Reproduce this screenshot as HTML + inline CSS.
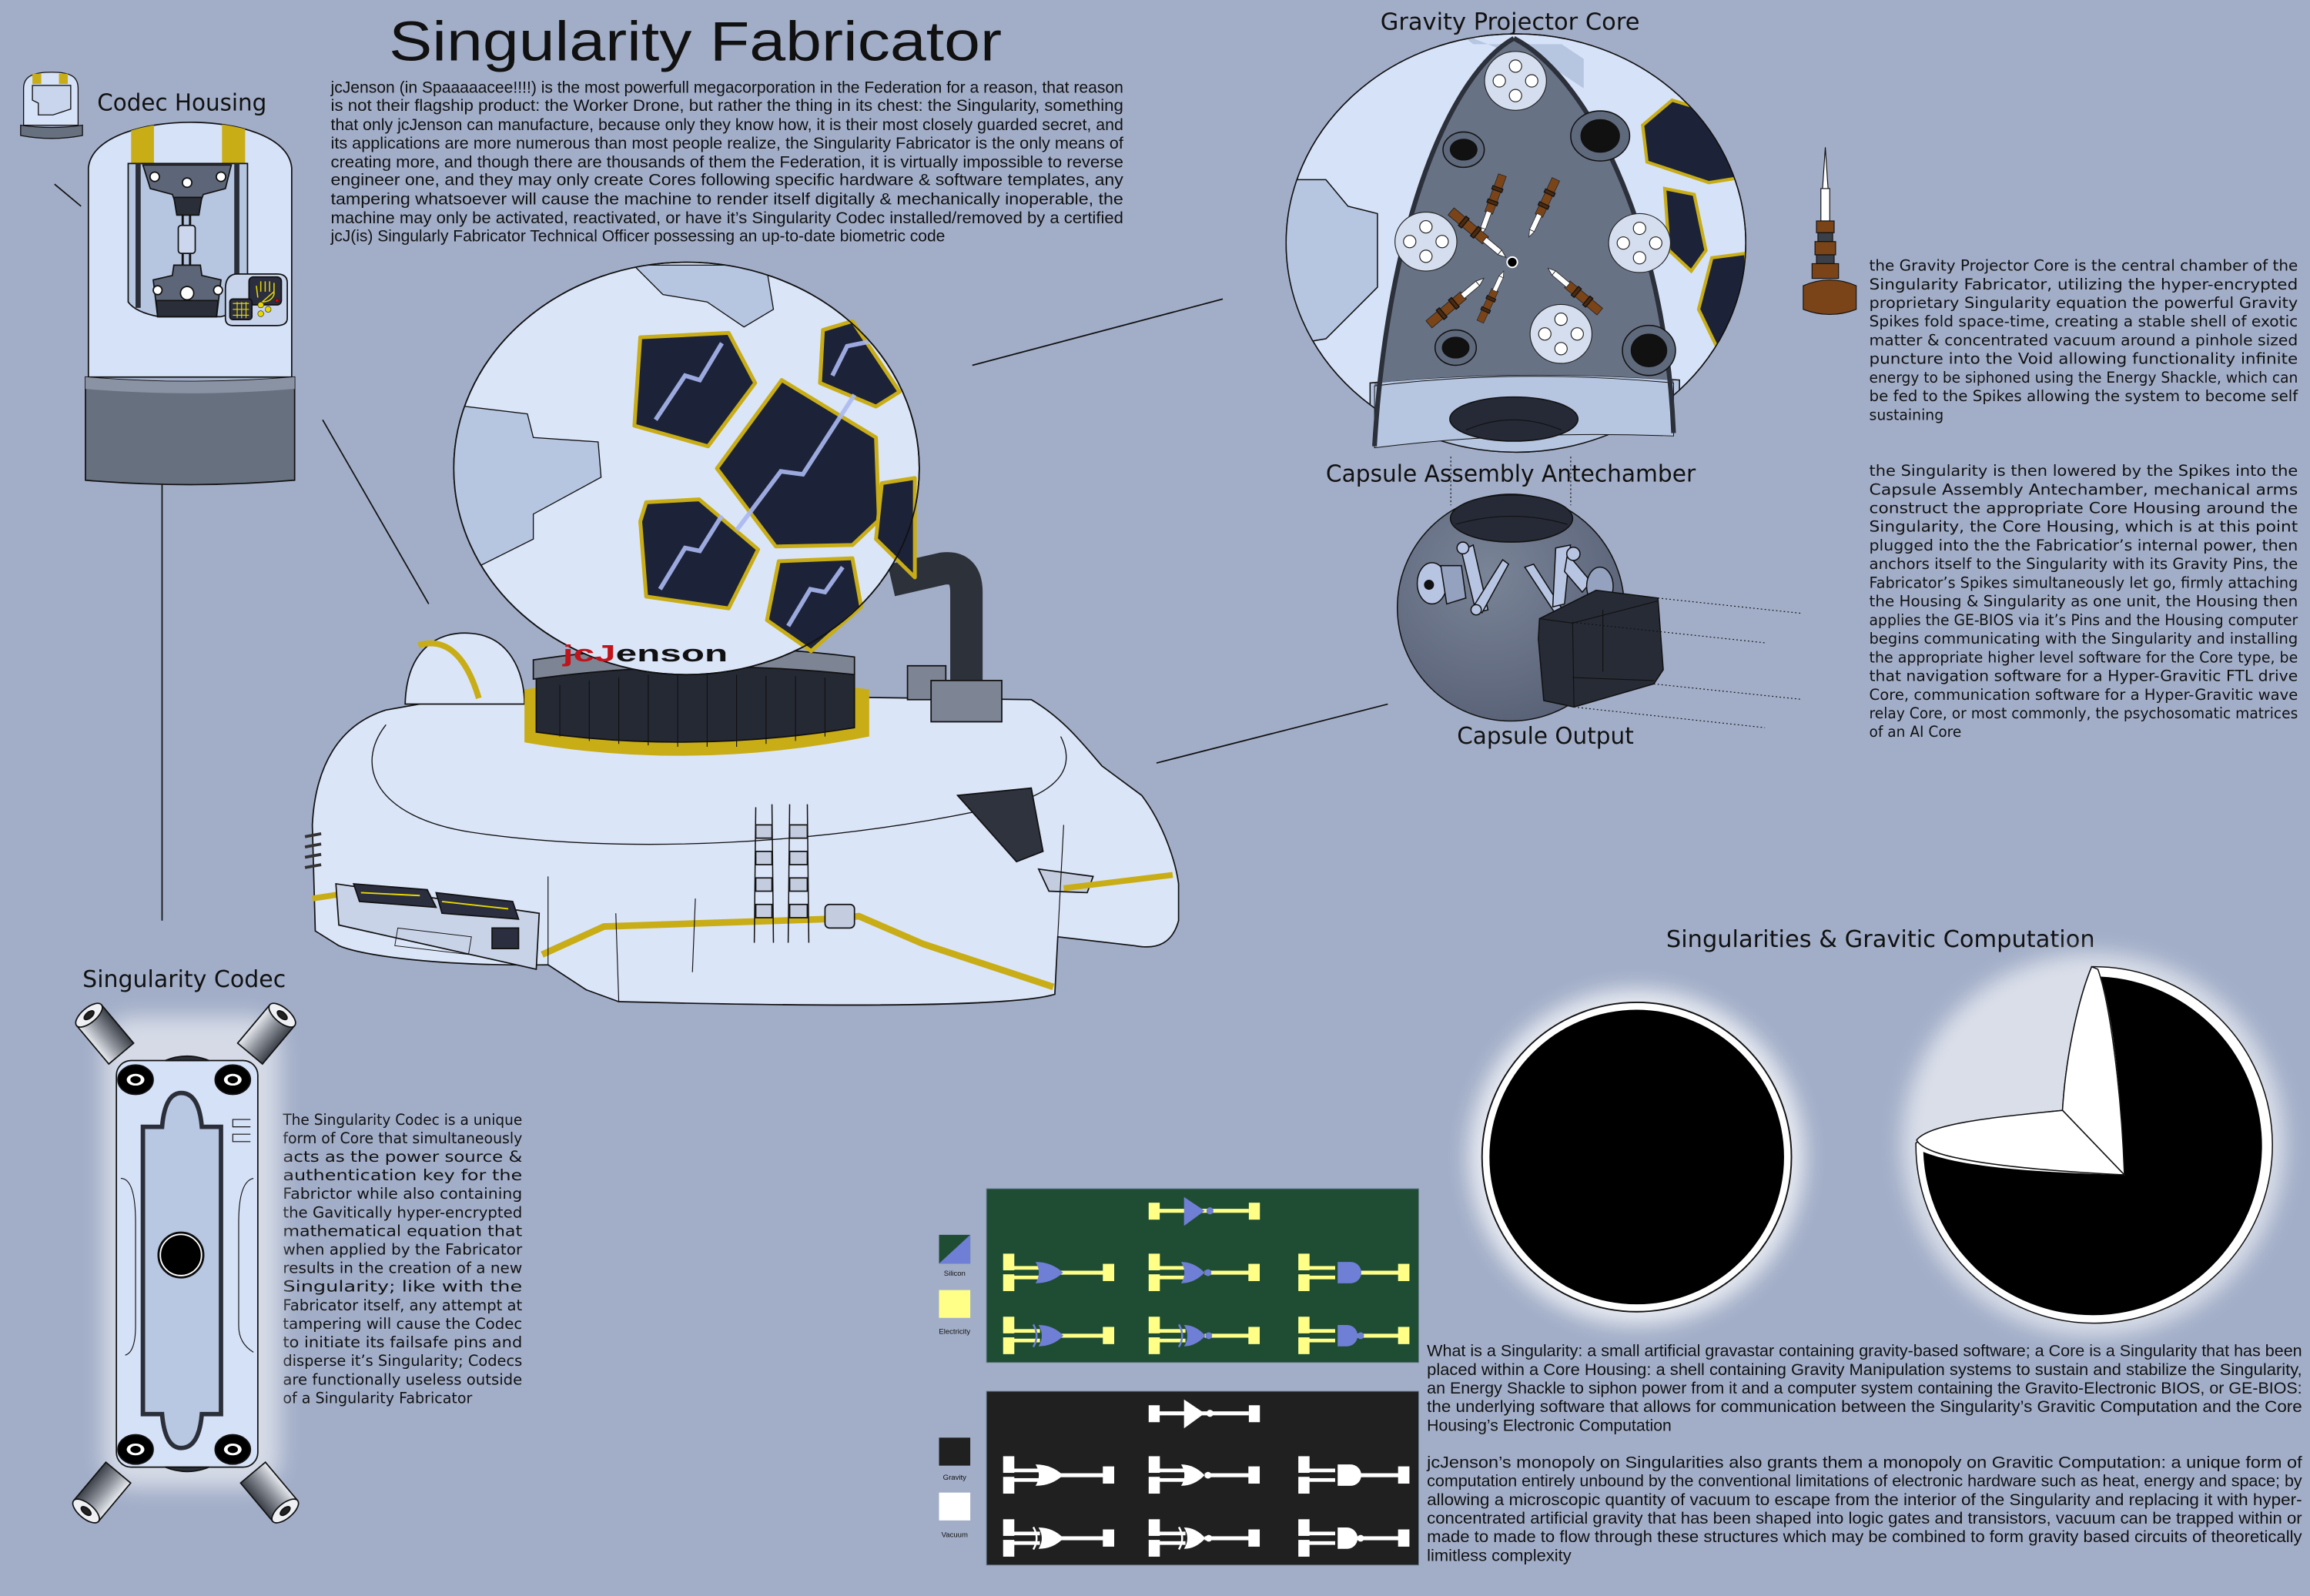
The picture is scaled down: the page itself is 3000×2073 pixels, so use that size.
<!DOCTYPE html>
<html><head><meta charset="utf-8"><style>
html,body{margin:0;padding:0;background:#a2aec8;}
svg{display:block;}
.b{font-family:"Liberation Sans",sans-serif;fill:#111;}
.h{font-family:"DejaVu Sans","Liberation Sans",sans-serif;fill:#111;}
.s{font-family:"DejaVu Sans","Liberation Sans",sans-serif;fill:#111;}
</style></head><body>
<svg xmlns="http://www.w3.org/2000/svg" xmlns:xlink="http://www.w3.org/1999/xlink" width="3000" height="2073" viewBox="0 0 1568 1083.5">
<defs>
<filter id="glow" x="-30%" y="-30%" width="160%" height="160%"><feGaussianBlur stdDeviation="7"/></filter>
<filter id="glow2" x="-30%" y="-30%" width="160%" height="160%"><feGaussianBlur stdDeviation="3"/></filter>
<linearGradient id="cyl" x1="0" y1="0" x2="1" y2="0"><stop offset="0" stop-color="#e8ebf0"/><stop offset="0.5" stop-color="#8a8f98"/><stop offset="1" stop-color="#3b3f47"/></linearGradient>
<radialGradient id="sph" cx="0.4" cy="0.35" r="0.7"><stop offset="0" stop-color="#7a8497"/><stop offset="1" stop-color="#586176"/></radialGradient>
<g id="inp"><rect x="0" y="-12.9" width="7.6" height="11.3"/><rect x="0" y="1.1" width="7.6" height="11.4"/><rect x="7" y="-4.5" width="18" height="2.5"/><rect x="7" y="2" width="18" height="2.5"/></g>
<g id="out"><rect x="38" y="-1.35" width="30" height="2.7"/><rect x="67.7" y="-6" width="7.7" height="11.7"/></g>
<g id="gOR"><use xlink:href="#inp"/><use xlink:href="#out"/><path fill="currentColor" d="M22,-7.3 Q33,-7.3 40.7,0 Q33,7.2 22,7.2 Q26.5,0 22,-7.3 Z"/></g>
<g id="gNOR"><use xlink:href="#inp"/><use xlink:href="#out"/><path fill="currentColor" d="M22,-7.3 Q31,-7.3 38,0 Q31,7.2 22,7.2 Q26.5,0 22,-7.3 Z"/><circle cx="40.3" cy="0" r="2.3" fill="currentColor"/></g>
<g id="gAND"><use xlink:href="#inp"/><use xlink:href="#out"/><path fill="currentColor" d="M26.7,-7.3 H35.5 A7.25,7.25 0 0 1 35.5,7.2 H26.7 Z"/></g>
<g id="gNAND"><use xlink:href="#inp"/><use xlink:href="#out"/><path fill="currentColor" d="M26.7,-7.3 H33 A7.25,7.25 0 0 1 33,7.2 H26.7 Z"/><circle cx="42.3" cy="0" r="2.3" fill="currentColor"/></g>
<g id="gXOR"><use xlink:href="#inp"/><use xlink:href="#out"/><path fill="currentColor" d="M24,-7.3 Q34,-7.3 41,0 Q34,7.2 24,7.2 Q28.5,0 24,-7.3 Z"/><path d="M20.5,-7.6 Q25,0 20.5,7.6" stroke="currentColor" stroke-width="1.3" fill="none"/></g>
<g id="gXNOR"><use xlink:href="#inp"/><use xlink:href="#out"/><path fill="currentColor" d="M24,-7.3 Q32,-7.3 38.5,0 Q32,7.2 24,7.2 Q28.5,0 24,-7.3 Z"/><path d="M20.5,-7.6 Q25,0 20.5,7.6" stroke="currentColor" stroke-width="1.3" fill="none"/><circle cx="40.8" cy="0" r="2.3" fill="currentColor"/></g>
<g id="gNOT"><rect x="0" y="-5.5" width="7.5" height="11.5"/><rect x="7" y="-1.35" width="61" height="2.7"/><path fill="currentColor" d="M24,-9.4 L38,0 L24,10.2 Z"/><circle cx="41.6" cy="0" r="2.4" fill="currentColor"/><rect x="68" y="-5.5" width="7.5" height="11.5"/></g>
<g id="disc"><ellipse cx="0" cy="0" rx="21" ry="20" fill="#d4deef" stroke="#222" stroke-width="0.6"/><circle cx="0" cy="-10" r="4.2" fill="#fff" stroke="#222" stroke-width="0.6"/><circle cx="0" cy="10" r="4.2" fill="#fff" stroke="#222" stroke-width="0.6"/><circle cx="-11" cy="0" r="4.2" fill="#fff" stroke="#222" stroke-width="0.6"/><circle cx="11" cy="0" r="4.2" fill="#fff" stroke="#222" stroke-width="0.6"/></g>
<g id="spike"><rect x="-3.5" y="0" width="7" height="34" fill="#7a4418" stroke="#222" stroke-width="0.5"/><rect x="-2.2" y="-14" width="4.4" height="15" fill="#fff" stroke="#222" stroke-width="0.5"/><path d="M-2.2,-14 L0,-20 L2.2,-14 Z" fill="#fff" stroke="#222" stroke-width="0.5"/><rect x="-4.5" y="8" width="9" height="3" fill="#4a2a10"/><rect x="-4.5" y="20" width="9" height="3" fill="#4a2a10"/></g>
<clipPath id="globeclip"><ellipse cx="466" cy="318" rx="158" ry="140"/></clipPath>
<clipPath id="coreclip"><ellipse cx="1029" cy="165" rx="156" ry="142"/></clipPath>
<clipPath id="chbody"><path d="M60,256 L60,114 C62,92 100,83 129,83 C160,83 196,92 198,114 L198,256 Z"/></clipPath>
</defs>

<rect width="1568" height="1083.5" fill="#a2aec8"/>

<!-- connector lines -->
<g stroke="#111" stroke-width="0.9" fill="none">
<line x1="37" y1="125" x2="55" y2="140"/>
<line x1="219" y1="285" x2="291" y2="410"/>
<line x1="110" y1="325" x2="110" y2="625"/>
<line x1="660" y1="248" x2="830" y2="203"/>
<line x1="785" y1="518" x2="942" y2="478"/>
</g>

<!-- Title & top paragraph -->
<text class="b" x="264" y="41" font-size="38" textLength="416" lengthAdjust="spacingAndGlyphs">Singularity Fabricator</text>
<g class="b" font-size="11">
<text x="224.5" y="63" textLength="538" lengthAdjust="spacingAndGlyphs">jcJenson (in Spaaaaacee!!!!) is the most powerfull megacorporation in the Federation for a reason, that reason</text>
<text x="224.5" y="75.2" textLength="538" lengthAdjust="spacingAndGlyphs">is not their flagship product: the Worker Drone, but rather the thing in its chest: the Singularity, something</text>
<text x="224.5" y="88.3" textLength="538" lengthAdjust="spacingAndGlyphs">that only jcJenson can manufacture, because only they know how, it is their most closely guarded secret, and</text>
<text x="224.5" y="100.8" textLength="538" lengthAdjust="spacingAndGlyphs">its applications are more numerous than most people realize, the Singularity Fabricator is the only means of</text>
<text x="224.5" y="113.6" textLength="538" lengthAdjust="spacingAndGlyphs">creating more, and though there are thousands of them the Federation, it is virtually impossible to reverse</text>
<text x="224.5" y="125.8" textLength="538" lengthAdjust="spacingAndGlyphs">engineer one, and they may only create Cores following specific hardware &amp; software templates, any</text>
<text x="224.5" y="138.8" textLength="538" lengthAdjust="spacingAndGlyphs">tampering whatsoever will cause the machine to render itself digitally &amp; mechanically inoperable, the</text>
<text x="224.5" y="151.5" textLength="538" lengthAdjust="spacingAndGlyphs">machine may only be activated, reactivated, or have it’s Singularity Codec installed/removed by a certified</text>
<text x="224.5" y="163.8" textLength="417" lengthAdjust="spacingAndGlyphs">jcJ(is) Singularly Fabricator Technical Officer possessing an up-to-date biometric code</text>
</g>

<!-- Labels -->
<g class="h" font-size="16">
<text x="66" y="75" textLength="115" lengthAdjust="spacingAndGlyphs">Codec Housing</text>
<text x="937" y="20" textLength="176" lengthAdjust="spacingAndGlyphs">Gravity Projector Core</text>
<text x="900" y="327" textLength="251" lengthAdjust="spacingAndGlyphs">Capsule Assembly Antechamber</text>
<text x="989" y="505" textLength="120" lengthAdjust="spacingAndGlyphs">Capsule Output</text>
<text x="56" y="670" textLength="138" lengthAdjust="spacingAndGlyphs">Singularity Codec</text>
<text x="1131" y="643" textLength="291" lengthAdjust="spacingAndGlyphs">Singularities &amp; Gravitic Computation</text>
</g>

<!-- Right text 1 -->
<g class="s" font-size="10">
<text x="1268.8" y="183.7" textLength="291" lengthAdjust="spacingAndGlyphs">the Gravity Projector Core is the central chamber of the</text>
<text x="1268.8" y="196.4" textLength="291" lengthAdjust="spacingAndGlyphs">Singularity Fabricator, utilizing the hyper-encrypted</text>
<text x="1268.8" y="209" textLength="291" lengthAdjust="spacingAndGlyphs">proprietary Singularity equation the powerful Gravity</text>
<text x="1268.8" y="221.7" textLength="291" lengthAdjust="spacingAndGlyphs">Spikes fold space-time, creating a stable shell of exotic</text>
<text x="1268.8" y="234.4" textLength="291" lengthAdjust="spacingAndGlyphs">matter &amp; concentrated vacuum around a pinhole sized</text>
<text x="1268.8" y="247" textLength="291" lengthAdjust="spacingAndGlyphs">puncture into the Void allowing functionality infinite</text>
<text x="1268.8" y="259.7" textLength="291" lengthAdjust="spacingAndGlyphs">energy to be siphoned using the Energy Shackle, which can</text>
<text x="1268.8" y="272.4" textLength="291" lengthAdjust="spacingAndGlyphs">be fed to the Spikes allowing the system to become self</text>
<text x="1268.8" y="285" textLength="50.5" lengthAdjust="spacingAndGlyphs">sustaining</text>
</g>
<!-- Right text 2 -->
<g class="s" font-size="10">
<text x="1268.8" y="323" textLength="291" lengthAdjust="spacingAndGlyphs">the Singularity is then lowered by the Spikes into the</text>
<text x="1268.8" y="335.7" textLength="291" lengthAdjust="spacingAndGlyphs">Capsule Assembly Antechamber, mechanical arms</text>
<text x="1268.8" y="348.3" textLength="291" lengthAdjust="spacingAndGlyphs">construct the appropriate Core Housing around the</text>
<text x="1268.8" y="361" textLength="291" lengthAdjust="spacingAndGlyphs">Singularity, the Core Housing, which is at this point</text>
<text x="1268.8" y="373.7" textLength="291" lengthAdjust="spacingAndGlyphs">plugged into the the Fabricatior’s internal power, then</text>
<text x="1268.8" y="386.3" textLength="291" lengthAdjust="spacingAndGlyphs">anchors itself to the Singularity with its Gravity Pins, the</text>
<text x="1268.8" y="399" textLength="291" lengthAdjust="spacingAndGlyphs">Fabricator’s Spikes simultaneously let go, firmly attaching</text>
<text x="1268.8" y="411.7" textLength="291" lengthAdjust="spacingAndGlyphs">the Housing &amp; Singularity as one unit, the Housing then</text>
<text x="1268.8" y="424.3" textLength="291" lengthAdjust="spacingAndGlyphs">applies the GE-BIOS via it’s Pins and the Housing computer</text>
<text x="1268.8" y="437" textLength="291" lengthAdjust="spacingAndGlyphs">begins communicating with the Singularity and installing</text>
<text x="1268.8" y="449.7" textLength="291" lengthAdjust="spacingAndGlyphs">the appropriate higher level software for the Core type, be</text>
<text x="1268.8" y="462.3" textLength="291" lengthAdjust="spacingAndGlyphs">that navigation software for a Hyper-Gravitic FTL drive</text>
<text x="1268.8" y="475" textLength="291" lengthAdjust="spacingAndGlyphs">Core, communication software for a Hyper-Gravitic wave</text>
<text x="1268.8" y="487.7" textLength="291" lengthAdjust="spacingAndGlyphs">relay Core, or most commonly, the psychosomatic matrices</text>
<text x="1268.8" y="500.3" textLength="62.6" lengthAdjust="spacingAndGlyphs">of an AI Core</text>
</g>
<!-- Codec text -->
<g class="s" font-size="10">
<text x="192" y="763.5" textLength="162.5" lengthAdjust="spacingAndGlyphs">The Singularity Codec is a unique</text>
<text x="192" y="776.1" textLength="162.5" lengthAdjust="spacingAndGlyphs">form of Core that simultaneously</text>
<text x="192" y="788.7" textLength="162.5" lengthAdjust="spacingAndGlyphs">acts as the power source &amp;</text>
<text x="192" y="801.3" textLength="162.5" lengthAdjust="spacingAndGlyphs">authentication key for the</text>
<text x="192" y="813.9" textLength="162.5" lengthAdjust="spacingAndGlyphs">Fabrictor while also containing</text>
<text x="192" y="826.5" textLength="162.5" lengthAdjust="spacingAndGlyphs">the Gavitically hyper-encrypted</text>
<text x="192" y="839.1" textLength="162.5" lengthAdjust="spacingAndGlyphs">mathematical equation that</text>
<text x="192" y="851.7" textLength="162.5" lengthAdjust="spacingAndGlyphs">when applied by the Fabricator</text>
<text x="192" y="864.3" textLength="162.5" lengthAdjust="spacingAndGlyphs">results in the creation of a new</text>
<text x="192" y="876.9" textLength="162.5" lengthAdjust="spacingAndGlyphs">Singularity; like with the</text>
<text x="192" y="889.5" textLength="162.5" lengthAdjust="spacingAndGlyphs">Fabricator itself, any attempt at</text>
<text x="192" y="902.1" textLength="162.5" lengthAdjust="spacingAndGlyphs">tampering will cause the Codec</text>
<text x="192" y="914.7" textLength="162.5" lengthAdjust="spacingAndGlyphs">to initiate its failsafe pins and</text>
<text x="192" y="927.3" textLength="162.5" lengthAdjust="spacingAndGlyphs">disperse it’s Singularity; Codecs</text>
<text x="192" y="939.9" textLength="162.5" lengthAdjust="spacingAndGlyphs">are functionally useless outside</text>
<text x="192" y="952.5" textLength="128.6" lengthAdjust="spacingAndGlyphs">of a Singularity Fabricator</text>
</g>
<!-- Bottom right text -->
<g class="b" font-size="11">
<text x="968.6" y="920.8" textLength="594" lengthAdjust="spacingAndGlyphs">What is a Singularity: a small artificial gravastar containing gravity-based software; a Core is a Singularity that has been</text>
<text x="968.6" y="933.4" textLength="594" lengthAdjust="spacingAndGlyphs">placed within a Core Housing: a shell containing Gravity Manipulation systems to sustain and stabilize the Singularity,</text>
<text x="968.6" y="946.1" textLength="594" lengthAdjust="spacingAndGlyphs">an Energy Shackle to siphon power from it and a computer system containing the Gravito-Electronic BIOS, or GE-BIOS:</text>
<text x="968.6" y="958.7" textLength="594" lengthAdjust="spacingAndGlyphs">the underlying software that allows for communication between the Singularity’s Gravitic Computation and the Core</text>
<text x="968.6" y="971.3" textLength="166" lengthAdjust="spacingAndGlyphs">Housing’s Electronic Computation</text>
<text x="968.6" y="996.5" textLength="594" lengthAdjust="spacingAndGlyphs">jcJenson’s monopoly on Singularities also grants them a monopoly on Gravitic Computation: a unique form of</text>
<text x="968.6" y="1009.1" textLength="594" lengthAdjust="spacingAndGlyphs">computation entirely unbound by the conventional limitations of electronic hardware such as heat, energy and space; by</text>
<text x="968.6" y="1021.8" textLength="594" lengthAdjust="spacingAndGlyphs">allowing a microscopic quantity of vacuum to escape from the interior of the Singularity and replacing it with hyper-</text>
<text x="968.6" y="1034.4" textLength="594" lengthAdjust="spacingAndGlyphs">concentrated artificial gravity that has been shaped into logic gates and transistors, vacuum can be trapped within or</text>
<text x="968.6" y="1047" textLength="594" lengthAdjust="spacingAndGlyphs">made to made to flow through these structures which may be combined to form gravity based circuits of theoretically</text>
<text x="968.6" y="1059.6" textLength="98" lengthAdjust="spacingAndGlyphs">limitless complexity</text>
</g>

<!-- ===== Codec Housing small icon ===== -->
<g stroke="#111" stroke-width="0.7">
<path d="M16,85 L16,60 C16,52 22,49 35,49 C48,49 53,52 53,60 L53,85 Z" fill="#d6e2f8"/>
<rect x="22" y="50" width="6" height="7" fill="#c8ad16" stroke="none"/>
<rect x="40" y="50" width="6" height="7" fill="#c8ad16" stroke="none"/>
<path d="M22,58 L48,58 L48,74 L36,78 L26,78 L26,70 L22,68 Z" fill="#c9d5ec"/>
<path d="M14,85 Q35,88 56,85 L56,92 Q35,96 14,92 Z" fill="#66707f"/>
</g>

<!-- ===== Codec Housing main ===== -->
<g stroke="#111" stroke-width="0.9">
<path d="M60,256 L60,114 C62,92 100,83 129,83 C160,83 196,92 198,114 L198,256 Z" fill="#d6e2f8"/>
<g clip-path="url(#chbody)" stroke="none"><rect x="89" y="80" width="15.5" height="33" fill="#c8ad16"/><rect x="150.7" y="80" width="15.7" height="33" fill="#c8ad16"/></g>
<path d="M87,111 L168,111 L168,205 Q162,212 150,215 L108,215 Q92,212 87,205 Z" fill="#b6c5e0"/>
<rect x="92" y="111" width="3.5" height="98" fill="#2a2e38" stroke="none"/>
<rect x="159" y="111" width="3.5" height="98" fill="#2a2e38" stroke="none"/>
<path d="M97,112 L157,112 L153,128 L138,132 L135,140 L120,140 L117,132 L102,128 Z" fill="#5d6678"/>
<path d="M118,134 L137,134 L135,146 L120,146 Z" fill="#2a2e38"/>
<circle cx="105" cy="120" r="3.2" fill="#fff"/><circle cx="127" cy="124" r="3.2" fill="#fff"/><circle cx="150" cy="120" r="3.2" fill="#fff"/>
<rect x="121" y="153" width="11.5" height="19" rx="2" fill="#ccd7ee"/>
<path d="M124,146 L124,153 M129,146 L129,153 M124,172 L124,180 M129,172 L129,180" stroke-width="1.5"/>
<path d="M118,180 L136,180 L137,187 L150,190 L147,215 L107,215 L104,190 L117,187 Z" fill="#5d6678"/>
<path d="M106,204 L148,204 L147,215 L107,215 Z" fill="#2a2e38"/>
<circle cx="127" cy="199" r="4.5" fill="#fff"/><circle cx="107" cy="197" r="3" fill="#fff"/><circle cx="148" cy="197" r="3" fill="#fff"/>
<path d="M153,196 Q153,187 160,186 L188,186 Q195,186 195,192 L195,216 Q195,221 188,221 L158,221 Q153,221 153,216 Z" fill="#c8d4ec"/>
<rect x="169" y="188" width="22" height="19" rx="3" fill="#2a2e3f"/>
<path d="M175,202 L174,194 M177,198 L177,191 M180,198 L180,191 M183,198 L183,191 M186,198 L186,192 L186,200 Q184,205 178,205 Z" stroke="#e8d800" stroke-width="0.8" fill="none"/>
<rect x="156" y="203" width="15" height="14" rx="2" fill="#2a2e3f"/>
<path d="M158,206 H169 M158,210 H169 M158,214 H169 M161,205 V216 M164,205 V216 M167,205 V216" stroke="#e8d800" stroke-width="0.6"/>
<circle cx="177" cy="207" r="2" fill="#e8d800" stroke-width="0.3"/><circle cx="182" cy="210" r="2" fill="#e8d800" stroke-width="0.3"/><circle cx="177" cy="213" r="2" fill="#e8d800" stroke-width="0.3"/><circle cx="188" cy="204" r="1.3" fill="#d00" stroke-width="0.3"/>
<path d="M58,256 Q129,262 200,256 L200,326 Q129,332 58,326 Z" fill="#66707f"/>
<path d="M58,256 Q129,262 200,256 L200,264 Q129,270 58,264 Z" fill="#8a93a3" stroke="none"/>
</g>

<!-- ===== Main machine ===== -->
<g stroke="#111" stroke-width="0.9">
<!-- base -->
<path d="M212,560 C214,520 230,492 262,482 L330,470 L700,475 C722,488 735,505 748,520 L775,540 C790,560 798,585 800,600 L800,625 C796,640 786,645 770,642 L718,636 L716,675 C690,683 580,684 420,680 L398,672 L372,655 C300,656 246,649 230,642 L214,632 Z" fill="#dbe5f8"/>
<path d="M262,492 C240,520 255,555 320,565 C420,580 560,575 690,545 C720,535 730,520 720,500" fill="none" stroke-width="0.7"/>
<path d="M650,540 L700,535 L708,578 L690,585 Z" fill="#2f333d"/>
<path d="M705,590 L742,595 L738,606 L712,605 Z" fill="#c4cde0"/>
<path d="M207,568 L218,566 M207,575 L218,573 M207,582 L218,580 M207,589 L218,587" stroke="#333" stroke-width="2"/>
<path d="M212,610 L238,606" stroke="#c8ad16" stroke-width="4" fill="none"/>
<path d="M368,648 L410,629 L560,624 L583,622 L627,641 L715,670" stroke="#c8ad16" stroke-width="4.5" fill="none"/>
<path d="M722,603 L796,594" stroke="#c8ad16" stroke-width="4" fill="none"/>
<path d="M372,655 L372,595 M718,636 L722,560 M420,680 L418,620 M470,660 L472,610" fill="none" stroke-width="0.6"/>
<!-- front panel -->
<path d="M228,600 L366,620 L364,658 L230,628 Z" fill="#c9d3e8"/>
<path d="M240,600 L290,604 L296,616 L244,612 Z M296,606 L348,612 L352,624 L300,620 Z" fill="#2a2e3f"/>
<path d="M245,606 L285,608 M300,612 L345,617" stroke="#e8d800" stroke-width="1"/>
<rect x="334" y="630" width="18" height="14" fill="#2a2e3f"/>
<path d="M270,630 L320,636 L318,648 L268,642 Z" fill="none" stroke-width="0.5"/>
<!-- ladder -->
<path d="M513,548 L512,640 M524,546 L525,640 M536,546 L535,640 M548,546 L549,640" stroke-width="0.8" fill="none"/>
<g fill="#c4cde0"><rect x="513" y="560" width="11" height="9"/><rect x="513" y="578" width="11" height="9"/><rect x="513" y="596" width="11" height="9"/><rect x="513" y="614" width="11" height="9"/>
<rect x="536" y="560" width="12" height="9"/><rect x="536" y="578" width="12" height="9"/><rect x="536" y="596" width="12" height="9"/><rect x="536" y="614" width="12" height="9"/></g>
<rect x="560" y="614" width="20" height="16" rx="3" fill="#c4cde0"/>
<!-- left dome -->
<path d="M275,478 C276,440 298,428 320,430 C345,432 356,455 356,478 Z" fill="#dbe5f8"/>
<path d="M284,438 Q312,430 325,474" stroke="#c8ad16" stroke-width="4" fill="none"/>
<!-- pipe -->
<path d="M616,452 L642,452 L642,475 L616,475 Z" fill="#7d8494"/>
<path d="M605,394 L640,386 Q656,384 656,402 L656,470" stroke="#2d3139" stroke-width="22" fill="none" stroke-linecap="butt"/>
<path d="M632,462 L680,462 L680,490 L632,490 Z" fill="#7d8494"/>
<!-- collar -->
<path d="M356,468 Q470,452 590,468 L590,500 Q470,524 356,504 Z" fill="#c8ad16" stroke="none"/>
<path d="M364,458 Q470,446 580,457 L580,494 Q470,512 364,497 Z" fill="#252934"/>
<path d="M380,465 L380,500 M400,462 L400,503 M420,460 L420,505 M440,458 L440,506 M460,458 L460,507 M480,458 L480,507 M500,458 L500,507 M520,459 L520,505 M540,459 L540,503 M560,460 L560,500" stroke="#111" stroke-width="0.6"/>
<path d="M362,448 Q470,432 580,446 L580,458 Q470,446 362,461 Z" fill="#7d8494"/>
<!-- globe -->
<ellipse cx="466" cy="318" rx="158" ry="140" fill="#dbe5f8"/>
<g clip-path="url(#globeclip)" stroke-width="0.7">
<path d="M300,274 L358,281 L362,297 L406,300 L408,324 L362,349 L362,366 L318,388 L300,380 Z" fill="#b6c5e0"/>
<path d="M430,180 L450,200 L480,205 L505,222 L525,210 L520,180 Z" fill="#b6c5e0"/>
</g>
<g fill="#1c2238" stroke="#c8ad16" stroke-width="2.6" stroke-linejoin="round">
<polygon points="434.6,229 494.6,226 512.6,260 480.6,303 430.6,289"/>
<polygon points="558.6,224 578.6,218 610.6,266 594.6,276 556.6,260"/>
<polygon points="530.6,258 594.6,297 596.6,353 578.6,370 526.6,371 486.6,318"/>
<polygon points="438.6,341 474.6,339 514.6,373 494.6,413 438.6,405 434.6,354"/>
<polygon points="528.6,381 578.6,379 584.6,412 550.6,442 520.6,421"/>
<polygon points="598.6,328 621,324.5 621,392 594.6,366"/>
</g>
<g stroke="#aab8f0" stroke-width="3" fill="none" opacity="0.9">
<path d="M445,285 L465,255 L475,258 L490,233"/><path d="M500,360 L530,320 L545,322 L580,268"/>
<path d="M448,400 L465,372 L475,374 L490,350"/><path d="M535,425 L550,400 L560,402 L572,385"/>
<path d="M565,255 L575,235 L590,232"/>
</g>
<ellipse cx="466" cy="318" rx="158" ry="140" fill="none"/>
</g>
<text x="382" y="449" font-family="Liberation Sans,sans-serif" font-weight="bold" font-size="16" textLength="112" lengthAdjust="spacingAndGlyphs"><tspan fill="#c0141a">jcJ</tspan><tspan fill="#111">enson</tspan></text>

<!-- ===== Gravity Projector Core ===== -->
<g stroke="#111" stroke-width="0.8">
<ellipse cx="1029" cy="165" rx="156" ry="142" fill="#d6e2f8"/>
<g clip-path="url(#coreclip)">
<path d="M870,122 L900,122 L915,140 L935,145 L935,195 L900,230 L870,235 Z" fill="#b6c5e0"/>
<path d="M990,22 L1000,30 L1060,30 L1075,40 L1075,60 L1060,50 Z" fill="#b6c5e0" stroke="none"/>
<g fill="#1c2238" stroke="#c8ad16" stroke-width="2.2">
<polygon points="1115,85 1135,68 1175,80 1185,120 1160,124 1118,110"/>
<polygon points="1130,128 1150,132 1158,170 1148,184 1133,170"/>
<polygon points="1162,175 1185,172 1186,230 1168,241 1153,210"/>
</g>
<path d="M930,260 Q1030,250 1140,258 L1140,320 L930,320 Z" fill="#b6c5e0"/>
</g>
<ellipse cx="1029" cy="165" rx="156" ry="142" fill="none"/>
<path d="M1027.6,26 C985,50 942,150 933,301 L933,260 Q1030,250 1136,258 L1136,292 C1130,150 1075,50 1027.6,26 Z" fill="#687285" stroke="none"/>
<path d="M933,262 Q1030,250 1136,260 L1136,296 Q1030,292 933,304 Z" fill="#b6c5e0" stroke-width="0.5"/>
<path d="M1027.6,26 C985,50 942,150 933,303 M1027.6,26 C1075,50 1130,150 1136,294" stroke="#2b303a" stroke-width="3.2" fill="none"/>
<ellipse cx="1027.6" cy="284.5" rx="43.5" ry="15" fill="#252a36"/>
<path d="M995,292 Q1027,278 1060,292" fill="none" stroke-width="0.6"/>
<use xlink:href="#disc" x="1028.7" y="54.9"/>
<use xlink:href="#disc" x="967.9" y="164"/>
<use xlink:href="#disc" x="1112.9" y="165"/>
<use xlink:href="#disc" x="1059.6" y="226.7"/>
<circle cx="1026.5" cy="178" r="3.5" fill="#000" stroke="#fff" stroke-width="1"/>
<ellipse cx="993.5" cy="101.6" rx="14" ry="12" fill="#5f697c"/><ellipse cx="993.5" cy="101.6" rx="9" ry="7" fill="#111"/>
<ellipse cx="1086.2" cy="92.3" rx="20" ry="17" fill="#5f697c"/><ellipse cx="1086.2" cy="92.3" rx="13" ry="11" fill="#111"/>
<ellipse cx="988.1" cy="236" rx="14" ry="12" fill="#5f697c"/><ellipse cx="988.1" cy="236" rx="9" ry="7" fill="#111"/>
<ellipse cx="1119.3" cy="237.9" rx="18" ry="17" fill="#5f697c"/><ellipse cx="1119.3" cy="237.9" rx="12" ry="11" fill="#111"/>
<use xlink:href="#spike" transform="translate(1010.5,144.5) rotate(-160) scale(0.8)"/>
<use xlink:href="#spike" transform="translate(1044.6,146.4) rotate(-155) scale(0.4) scale(2) translate(0,0)"/>
<use xlink:href="#spike" transform="translate(1008.4,163.2) rotate(130) scale(0.9)"/>
<use xlink:href="#spike" transform="translate(993.4,200.5) rotate(-130) scale(0.9) rotate(180)"/>
<use xlink:href="#spike" transform="translate(1014.8,196.8) rotate(25) scale(0.7)"/>
<use xlink:href="#spike" transform="translate(1063.8,193) rotate(-50) scale(0.85)"/>
</g>

<!-- small spike icon -->
<g stroke="#111" stroke-width="0.6">
<path d="M1237,130 L1239,100 L1241,130 Z" fill="#fff"/>
<rect x="1236" y="128" width="6" height="22" fill="#fff"/>
<rect x="1233" y="150" width="12" height="8" fill="#7a4418"/>
<rect x="1234" y="158" width="10" height="6" fill="#3b3f47"/>
<rect x="1232" y="164" width="14" height="9" fill="#7a4418"/>
<rect x="1233" y="173" width="12" height="6" fill="#3b3f47"/>
<rect x="1230" y="179" width="18" height="10" fill="#7a4418"/>
<path d="M1224,194 Q1242,186 1260,194 L1260,210 Q1242,217 1224,210 Z" fill="#7a4418"/>
</g>

<!-- ===== Capsule antechamber ===== -->
<g stroke="#111" stroke-width="0.8">
<circle cx="1025.5" cy="412.5" r="77" fill="url(#sph)"/>
<ellipse cx="1026" cy="352" rx="41.5" ry="16" fill="#252a36"/>
<path d="M988,356 Q1026,345 1064,356" fill="none" stroke-width="0.6"/>
<path d="M984.8,310 L984.8,343 M1066.2,310 L1066.2,343" stroke-dasharray="1.2,1.5" stroke-width="0.6"/>
<ellipse cx="972" cy="396" rx="10" ry="14" fill="#b7c5e3"/><circle cx="970" cy="397" r="3" fill="#111"/>
<path d="M978,384 L992,384 L995,406 L982,410 Z" fill="#94a2c0"/>
<path d="M992,374 L1000,370 L1010,414 L1002,416 Z" fill="#b7c5e3"/>
<path d="M1000,412 L1020,380 L1024,383 L1006,416 Z" fill="#b7c5e3"/>
<circle cx="993" cy="372" r="4" fill="#b7c5e3"/><circle cx="1002" cy="414" r="3.5" fill="#b7c5e3"/>
<path d="M1035,385 L1058,420 L1062,416 L1041,383 Z" fill="#b7c5e3"/>
<path d="M1056,372 L1066,370 L1062,410 L1054,412 Z" fill="#b7c5e3"/>
<path d="M1064,376 L1080,395 L1074,402 L1062,388 Z" fill="#b7c5e3"/>
<circle cx="1068" cy="376" r="4.5" fill="#b7c5e3"/>
<ellipse cx="1086" cy="398" rx="9" ry="13" fill="#94a2c0"/>
<path d="M1045,420 L1083.4,400.7 L1125.4,406 L1129,454.7 L1122.6,464.3 L1068.4,480 L1047.9,475.6 L1044.2,433.8 Z" fill="#262b36"/>
<path d="M1045,420 L1067.5,423 L1125.4,408 M1067.5,423 L1068.4,480 M1067.5,460 L1122.6,462 M1088,414 L1088,456" fill="none" stroke-width="0.6"/>
<g stroke-dasharray="1,1.6" stroke-width="0.6">
<line x1="1125.4" y1="406" x2="1223" y2="416.4"/>
<line x1="1067.5" y1="422.5" x2="1198" y2="436.4"/>
<line x1="1122.6" y1="464.3" x2="1223" y2="474.8"/>
<line x1="1068.4" y1="480" x2="1198" y2="494"/>
</g>
</g>

<!-- ===== Singularity Codec ===== -->
<rect x="70" y="690" width="120" height="320" rx="20" fill="#fff" opacity="0.55" filter="url(#glow)"/>
<g stroke="#111" stroke-width="0.9">
<g transform="translate(72,703) rotate(-40)"><rect x="-11" y="-18" width="22" height="34" fill="url(#cyl)"/><ellipse cx="0" cy="-18" rx="11" ry="5" fill="#eef0f4"/><ellipse cx="0" cy="-18" rx="4" ry="2" fill="#222"/></g>
<g transform="translate(180,703) rotate(40)"><rect x="-11" y="-18" width="22" height="34" fill="url(#cyl)"/><ellipse cx="0" cy="-18" rx="11" ry="5" fill="#eef0f4"/><ellipse cx="0" cy="-18" rx="4" ry="2" fill="#222"/></g>
<g transform="translate(70,1012) rotate(-140)"><rect x="-11" y="-18" width="22" height="34" fill="url(#cyl)"/><ellipse cx="0" cy="-18" rx="11" ry="5" fill="#eef0f4"/><ellipse cx="0" cy="-18" rx="4" ry="2" fill="#222"/></g>
<g transform="translate(182,1012) rotate(140)"><rect x="-11" y="-18" width="22" height="34" fill="url(#cyl)"/><ellipse cx="0" cy="-18" rx="11" ry="5" fill="#eef0f4"/><ellipse cx="0" cy="-18" rx="4" ry="2" fill="#222"/></g>
<rect x="79" y="720" width="96" height="276" rx="10" fill="#d5e1f7"/>
<path d="M97,765 L110,765 Q112,742 123,742 Q135,742 137,765 L150,765 L150,960 L137,960 Q135,983 123,983 Q112,983 110,960 L97,960 Z" fill="#b8c7e2" stroke="#2b2f3a" stroke-width="3"/>
<path d="M82,800 Q92,800 92,830 L92,900 Q92,918 85,920 M172,800 Q162,802 162,830 L162,900 Q162,912 172,918" fill="none" stroke-width="0.6"/>
<path d="M170,760 L158,760 L158,765 L170,765 M170,770 L158,770 L158,775 L170,775" fill="none" stroke-width="0.6"/>
<circle cx="122.8" cy="852" r="15.5" fill="#000" stroke="#111"/>
<circle cx="122.8" cy="852" r="14" fill="#000" stroke="#fff" stroke-width="1"/>
<ellipse cx="92" cy="733" rx="12" ry="10" fill="#000"/><ellipse cx="92" cy="733" rx="6" ry="4" fill="#fff" stroke="none"/><ellipse cx="92" cy="733" rx="3.5" ry="2.5" fill="#000" stroke="none"/>
<ellipse cx="158" cy="733" rx="12" ry="10" fill="#000"/><ellipse cx="158" cy="733" rx="6" ry="4" fill="#fff" stroke="none"/><ellipse cx="158" cy="733" rx="3.5" ry="2.5" fill="#000" stroke="none"/>
<ellipse cx="92" cy="984" rx="12" ry="10" fill="#000"/><ellipse cx="92" cy="984" rx="6" ry="4" fill="#fff" stroke="none"/><ellipse cx="92" cy="984" rx="3.5" ry="2.5" fill="#000" stroke="none"/>
<ellipse cx="158" cy="984" rx="12" ry="10" fill="#000"/><ellipse cx="158" cy="984" rx="6" ry="4" fill="#fff" stroke="none"/><ellipse cx="158" cy="984" rx="3.5" ry="2.5" fill="#000" stroke="none"/>
<path d="M112,720 Q127,714 142,720 Z M112,996 Q127,1002 142,996 Z" fill="#2b2f3a"/>
</g>

<!-- ===== Singularities ===== -->
<circle cx="1111" cy="785.5" r="114" fill="#fff" opacity="0.75" filter="url(#glow)"/>
<circle cx="1111" cy="785.5" r="105" fill="#fff" stroke="#111" stroke-width="1"/>
<circle cx="1111" cy="785.5" r="100" fill="#000"/>
<circle cx="1421" cy="777" r="130" fill="#fff" opacity="0.6" filter="url(#glow)"/>
<g stroke="#111" stroke-width="0.8">
<path d="M1419.8,656.3 A121,121 0 1,1 1300.5,776 C1320,762 1360,758 1400,753.8 C1402,720 1410,680 1419.8,656.3 Z" fill="#fff"/>
<path d="M1426,663 A115,115 0 1,1 1305.5,782 C1330,792 1380,796 1442,797.6 C1440,740 1434,690 1426,663 Z" fill="#000" stroke="none"/>
<path d="M1419.8,656.3 C1410,680 1402,720 1400,753.8 L1442,797.6 C1440,740 1432,680 1424,658 Z" fill="#fff"/>
<path d="M1400,753.8 C1360,758 1310,762 1301,774 C1305,782 1330,792 1442,797.6 Z" fill="#fff"/>
</g>

<!-- ===== Circuit boards ===== -->
<rect x="669.6" y="807" width="293.4" height="118" fill="#1f4d33" stroke="#6b7f8f" stroke-width="0.5"/>
<g fill="#ffff88" color="#6f7fd6">
<use xlink:href="#gNOT" x="779.7" y="822"/>
<use xlink:href="#gOR" x="680.9" y="864"/>
<use xlink:href="#gNOR" x="779.7" y="864"/>
<use xlink:href="#gAND" x="881.3" y="864"/>
<use xlink:href="#gXOR" x="680.9" y="906.8"/>
<use xlink:href="#gXNOR" x="779.7" y="906.8"/>
<use xlink:href="#gNAND" x="881.3" y="906.8"/>
</g>
<rect x="669.6" y="944.5" width="293.4" height="118" fill="#202020" stroke="#6b7f8f" stroke-width="0.5"/>
<g fill="#ffffff" color="#ffffff">
<use xlink:href="#gNOT" x="779.7" y="959.5"/>
<use xlink:href="#gOR" x="680.9" y="1001.5"/>
<use xlink:href="#gNOR" x="779.7" y="1001.5"/>
<use xlink:href="#gAND" x="881.3" y="1001.5"/>
<use xlink:href="#gXOR" x="680.9" y="1044.3"/>
<use xlink:href="#gXNOR" x="779.7" y="1044.3"/>
<use xlink:href="#gNAND" x="881.3" y="1044.3"/>
</g>
<!-- legend -->
<rect x="637.4" y="838.3" width="21.2" height="19.5" fill="#1f4d33"/>
<polygon points="658.6,838.3 658.6,857.8 637.4,857.8" fill="#6f7fd6"/>
<rect x="637.4" y="875.8" width="21.2" height="18.9" fill="#ffff88"/>
<rect x="637.4" y="976" width="21.2" height="19" fill="#202020"/>
<rect x="637.4" y="1013.3" width="21.2" height="18.9" fill="#fff"/>
<g class="b" font-size="5" text-anchor="middle">
<text x="648" y="866">Silicon</text>
<text x="648" y="905.5">Electricity</text>
<text x="648" y="1004.5">Gravity</text>
<text x="648" y="1043.5">Vacuum</text>
</g>
</svg>
</body></html>
